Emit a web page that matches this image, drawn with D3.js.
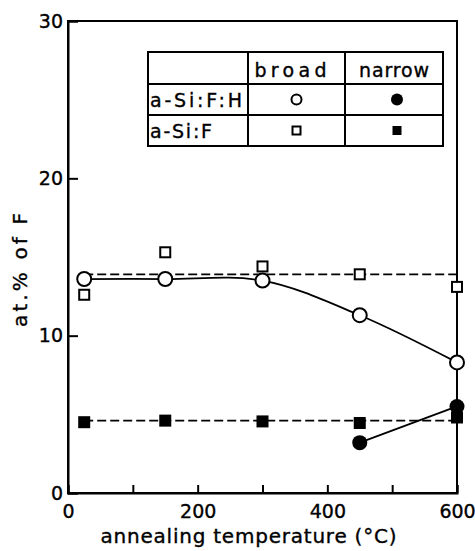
<!DOCTYPE html>
<html>
<head>
<meta charset="utf-8">
<script src="https://cdn.jsdelivr.net/npm/d3@7"></script>
<style>
  html, body { margin: 0; padding: 0; background: #fff; }
  svg { display: block; }
  text { font-family: "DejaVu Sans", sans-serif; fill: #000; stroke: #000; stroke-width: 0.35; }
</style>
</head>
<body>
<svg id="chart" width="475" height="551"></svg>
<script>
// ---- data ----
const temps = [25, 150, 300, 450, 600];
const siFHBroad = [13.6, 13.6, 13.5, 11.3, 8.3];        // open circles
const siFBroad = [12.6, 15.3, 14.4, 13.9, 13.1];        // open squares
const siFNarrow = [4.5, 4.6, 4.55, 4.45, 4.8];          // filled squares
const siFHNarrowT = [450, 600];
const siFHNarrow = [3.2, 5.5];                          // filled circles
const siFBroadLevel = 13.9;                             // dashed fit level
const siFNarrowLevel = 4.6;                             // dashed fit level
const xTicks = [0, 100, 200, 300, 400, 500, 600];
const xTickLabels = ["0", "", "200", "", "400", "", "600"];
const yTicks = [0, 10, 20, 30];
const legendCols = ["", "broad", "narrow"];
const legendRows = ["a-Si:F:H", "a-Si:F"];

// ---- layout ----
const W = 475, H = 551;
const m = { top: 21, right: 18, bottom: 58, left: 68 };
const svg = d3.select("#chart");
const g = svg.append("g").attr("transform", `translate(${m.left},${m.top})`);
const iw = W - m.left - m.right, ih = H - m.top - m.bottom;

const x = d3.scaleLinear().domain([0, 600]).range([0, iw]);
const y = d3.scaleLinear().domain([0, 30]).range([ih, 0]);

// frame
g.append("rect").attr("x", 0).attr("y", 0).attr("width", iw).attr("height", ih)
  .attr("fill", "none").attr("stroke", "#000").attr("stroke-width", 2);

// axes (inward ticks)
const xAxis = d3.axisBottom(x).tickValues(xTicks).tickSize(-8).tickPadding(12)
  .tickFormat((d, i) => xTickLabels[i]);
const gx = g.append("g").attr("transform", `translate(0,${ih})`).call(xAxis);
gx.select(".domain").attr("stroke-width", 2);
gx.selectAll(".tick line").attr("stroke-width", 2);
gx.selectAll("text").attr("font-size", 19).attr("font-family", "DejaVu Sans, sans-serif").attr("fill", "#000");

const yAxis = d3.axisLeft(y).tickValues(yTicks).tickSize(-10).tickPadding(5).tickFormat(d3.format("d"));
const gy = g.append("g").call(yAxis);
gy.select(".domain").attr("stroke-width", 2);
gy.selectAll(".tick line").attr("stroke-width", 2);
gy.selectAll("text").attr("font-size", 19).attr("font-family", "DejaVu Sans, sans-serif").attr("fill", "#000");

// axis titles
svg.append("text").attr("x", m.left + x(300) - 14).attr("y", 543)
  .attr("text-anchor", "middle").attr("font-size", 20)
  .attr("textLength", 296).attr("lengthAdjust", "spacing")
  .text("annealing temperature (°C)");
svg.append("text").attr("transform", "translate(27,270) rotate(-90)")
  .attr("text-anchor", "middle").attr("font-size", 20)
  .attr("textLength", 114).attr("lengthAdjust", "spacing")
  .text("at.% of F");

// dashed fit lines
const dashed = [siFBroadLevel, siFNarrowLevel];
g.selectAll(".dash").data(dashed).enter().append("line")
  .attr("x1", x(temps[0])).attr("x2", x(temps[temps.length - 1]))
  .attr("y1", d => y(d)).attr("y2", d => y(d))
  .attr("stroke", "#000").attr("stroke-width", 1.8).attr("stroke-dasharray", "9,4");

// solid curve through open circles
const curve = d3.line().x(d => x(d[0])).y(d => y(d[1])).curve(d3.curveCatmullRom.alpha(0.5));
g.append("path").datum(temps.map((t, i) => [t, siFHBroad[i]]))
  .attr("d", curve).attr("fill", "none").attr("stroke", "#000").attr("stroke-width", 1.8);
// straight line through filled circles
g.append("path").datum(siFHNarrowT.map((t, i) => [t, siFHNarrow[i]]))
  .attr("d", d3.line().x(d => x(d[0])).y(d => y(d[1])))
  .attr("fill", "none").attr("stroke", "#000").attr("stroke-width", 1.8);

// markers
g.selectAll(".osq").data(temps).enter().append("rect")
  .attr("x", (d) => x(d) - 5).attr("y", (d, i) => y(siFBroad[i]) - 5)
  .attr("width", 10).attr("height", 10)
  .attr("fill", "#fff").attr("stroke", "#000").attr("stroke-width", 2);
g.selectAll(".fsq").data(temps).enter().append("rect")
  .attr("x", (d) => x(d) - 6).attr("y", (d, i) => y(siFNarrow[i]) - 6)
  .attr("width", 12).attr("height", 12).attr("fill", "#000");
g.selectAll(".oci").data(temps).enter().append("circle")
  .attr("cx", d => x(d)).attr("cy", (d, i) => y(siFHBroad[i])).attr("r", 7)
  .attr("fill", "#fff").attr("stroke", "#000").attr("stroke-width", 2);
g.selectAll(".fci").data(siFHNarrowT).enter().append("circle")
  .attr("cx", d => x(d)).attr("cy", (d, i) => y(siFHNarrow[i])).attr("r", 7.5)
  .attr("fill", "#000");

// legend table
const tx = 148, ty = 52;
const colW = [100, 97, 98], rowH = [32, 31, 31];
const colX = [tx, tx + colW[0], tx + colW[0] + colW[1], tx + colW[0] + colW[1] + colW[2]];
const rowY = [ty, ty + rowH[0], ty + rowH[0] + rowH[1], ty + rowH[0] + rowH[1] + rowH[2]];
const lg = svg.append("g");
lg.append("rect").attr("x", colX[0]).attr("y", rowY[0])
  .attr("width", colX[3] - colX[0]).attr("height", rowY[3] - rowY[0])
  .attr("fill", "#fff").attr("stroke", "#000").attr("stroke-width", 2);
[1, 2].forEach(i => lg.append("line").attr("x1", colX[i]).attr("x2", colX[i])
  .attr("y1", rowY[0]).attr("y2", rowY[3]).attr("stroke", "#000").attr("stroke-width", 2));
[1, 2].forEach(i => lg.append("line").attr("x1", colX[0]).attr("x2", colX[3])
  .attr("y1", rowY[i]).attr("y2", rowY[i]).attr("stroke", "#000").attr("stroke-width", 2));
legendCols.forEach((c, i) => {
  if (!c) return;
  lg.append("text").attr("x", (colX[i] + colX[i + 1]) / 2 - (i === 1 ? 6 : 0)).attr("y", rowY[1] - 7)
    .attr("text-anchor", "middle").attr("font-size", 19)
    .attr("textLength", i === 1 ? 72 : 70).attr("lengthAdjust", "spacing").text(c);
});
legendRows.forEach((r, i) => {
  lg.append("text").attr("x", colX[0] + 2).attr("y", rowY[i + 1] + 23)
    .attr("font-size", 19)
    .attr("textLength", i === 0 ? 92 : 62).attr("lengthAdjust", "spacing").text(r);
});
const cB = (colX[1] + colX[2]) / 2, cN = (colX[2] + colX[3]) / 2;
const r1 = (rowY[1] + rowY[2]) / 2, r2 = (rowY[2] + rowY[3]) / 2;
lg.append("circle").attr("cx", cB).attr("cy", r1).attr("r", 5)
  .attr("fill", "#fff").attr("stroke", "#000").attr("stroke-width", 2);
lg.append("circle").attr("cx", cN + 3).attr("cy", r1).attr("r", 6).attr("fill", "#000");
lg.append("rect").attr("x", cB - 4).attr("y", r2 - 4).attr("width", 8).attr("height", 8)
  .attr("fill", "#fff").attr("stroke", "#000").attr("stroke-width", 2);
lg.append("rect").attr("x", cN + 3 - 4.5).attr("y", r2 - 4.5).attr("width", 9).attr("height", 9).attr("fill", "#000");
</script>
</body>
</html>
